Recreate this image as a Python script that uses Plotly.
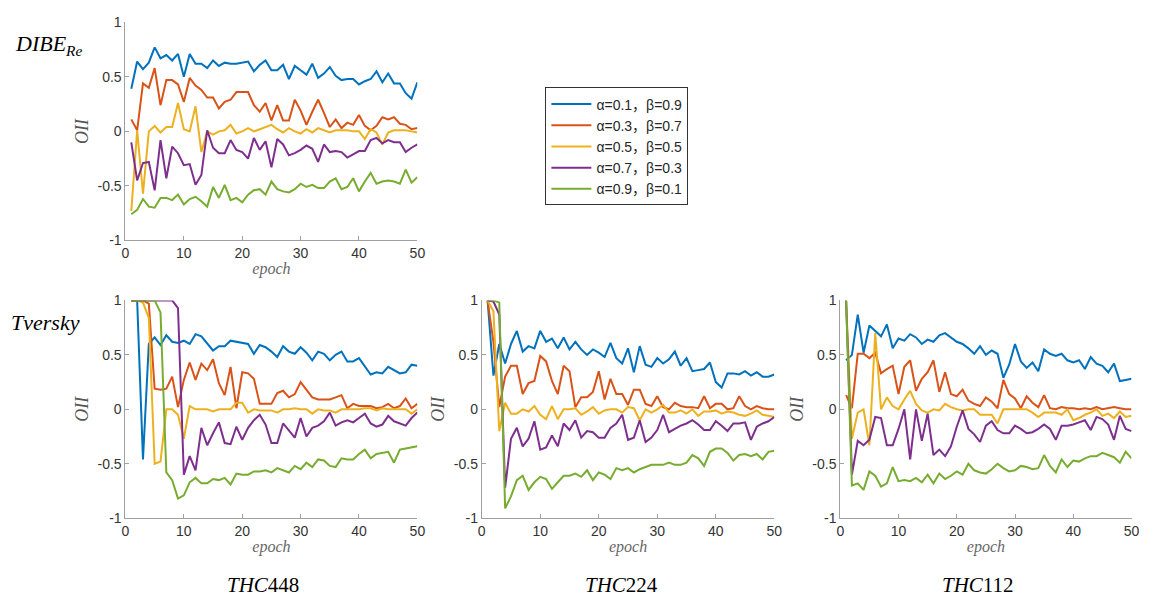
import plotly.graph_objects as go

epochs = list(range(1, 51))

series_names = ["α=0.1，β=0.9", "α=0.3，β=0.7", "α=0.5，β=0.5", "α=0.7，β=0.3", "α=0.9，β=0.1"]
series_colors = ["#0072BD", "#D95319", "#EDB120", "#7E2F8E", "#77AC30"]

# DIBE_Re (top left)
dibe_a01 = [0.39, 0.64, 0.57, 0.63, 0.77, 0.67, 0.70, 0.65, 0.71, 0.50, 0.71, 0.62, 0.62, 0.58, 0.65, 0.60, 0.63, 0.62, 0.62, 0.63,
            0.64, 0.55, 0.61, 0.65, 0.56, 0.56, 0.61, 0.48, 0.60, 0.56, 0.52, 0.62, 0.49, 0.53, 0.59, 0.51, 0.47, 0.48, 0.48, 0.43,
            0.46, 0.48, 0.55, 0.45, 0.53, 0.44, 0.44, 0.35, 0.30, 0.45]
dibe_a03 = [0.11, 0.01, 0.44, 0.40, 0.58, 0.24, 0.47, 0.47, 0.43, 0.27, 0.49, 0.42, 0.38, 0.31, 0.31, 0.21, 0.27, 0.29, 0.36, 0.36,
            0.36, 0.24, 0.18, 0.26, 0.10, 0.24, 0.10, 0.10, 0.29, 0.19, 0.06, 0.18, 0.29, 0.17, 0.04, 0.11, 0.03, 0.08, 0.06, 0.15,
            0.05, 0.01, 0.05, 0.13, 0.11, 0.13, 0.07, 0.06, 0.02, 0.03]
dibe_a05 = [-0.73, 0.01, -0.57, 0.00, 0.05, -0.01, 0.04, 0.04, 0.26, 0.02, 0.00, 0.23, -0.19, 0.00, -0.03, 0.00, 0.01, 0.06, -0.02, 0.00,
            0.03, 0.00, 0.02, 0.04, 0.06, 0.02, -0.01, 0.03, 0.00, -0.02, 0.02, -0.01, 0.03, 0.01, -0.01, 0.01, 0.01, 0.01, 0.00, 0.00,
            -0.07, 0.02, -0.01, -0.12, -0.01, 0.01, 0.01, 0.01, 0.00, -0.01]
dibe_a07 = [-0.10, -0.45, -0.29, -0.28, -0.54, -0.08, -0.43, -0.14, -0.20, -0.31, -0.30, -0.49, -0.40, 0.01, -0.15, -0.20, -0.20, -0.08, -0.17, -0.19,
            -0.25, -0.06, -0.17, -0.09, -0.33, -0.07, -0.12, -0.22, -0.20, -0.17, -0.13, -0.16, -0.28, -0.12, -0.19, -0.18, -0.19, -0.24, -0.21, -0.18,
            -0.18, -0.08, -0.06, -0.11, -0.08, -0.10, -0.10, -0.19, -0.15, -0.12]
dibe_a09 = [-0.76, -0.72, -0.62, -0.69, -0.70, -0.61, -0.61, -0.63, -0.58, -0.67, -0.62, -0.60, -0.64, -0.69, -0.51, -0.61, -0.49, -0.63, -0.61, -0.65,
            -0.58, -0.54, -0.53, -0.58, -0.46, -0.53, -0.55, -0.56, -0.53, -0.48, -0.51, -0.49, -0.52, -0.52, -0.46, -0.43, -0.53, -0.51, -0.43, -0.55,
            -0.46, -0.38, -0.48, -0.46, -0.45, -0.46, -0.48, -0.35, -0.47, -0.42]

# Tversky THC448
thc448_a01 = [1.00, 1.00, -0.46, 0.60, 0.66, 0.59, 0.68, 0.62, 0.61, 0.63, 0.60, 0.69, 0.67, 0.60, 0.54, 0.58, 0.58, 0.63, 0.62, 0.61,
              0.60, 0.51, 0.59, 0.57, 0.53, 0.48, 0.58, 0.53, 0.51, 0.57, 0.52, 0.45, 0.53, 0.51, 0.45, 0.50, 0.53, 0.44, 0.44, 0.47,
              0.40, 0.32, 0.34, 0.33, 0.39, 0.36, 0.33, 0.34, 0.41, 0.40]
thc448_a03 = [1.00, 1.00, 1.00, 0.97, 0.19, 0.18, 0.19, 0.30, 0.02, 0.27, 0.43, 0.27, 0.42, 0.36, 0.46, 0.24, 0.13, 0.39, 0.01, 0.34,
              0.33, 0.28, 0.05, 0.05, 0.05, 0.15, 0.17, 0.11, 0.14, 0.25, 0.18, 0.11, 0.09, 0.09, 0.09, 0.11, 0.13, 0.01, 0.05, 0.03,
              0.03, 0.03, 0.01, 0.02, 0.05, 0.01, 0.03, 0.10, 0.01, 0.05]
thc448_a05 = [1.00, 1.00, 0.98, 0.84, -0.50, -0.48, 0.00, 0.00, -0.05, -0.27, 0.03, 0.00, 0.00, 0.00, -0.02, 0.00, 0.00, 0.00, 0.06, 0.06,
              -0.03, 0.00, -0.01, -0.01, -0.01, -0.03, 0.00, 0.00, 0.01, 0.00, 0.00, -0.04, 0.00, -0.01, -0.01, -0.03, 0.00, 0.00, 0.00, 0.00,
              0.01, 0.01, -0.01, 0.01, 0.00, 0.00, 0.00, 0.00, -0.04, 0.00]
thc448_a07 = [1.00, 1.00, 1.00, 1.00, 1.00, 1.00, 1.00, 1.00, 0.93, -0.60, -0.43, -0.56, -0.17, -0.33, -0.22, -0.12, -0.31, -0.32, -0.16, -0.28,
              -0.17, -0.10, -0.05, -0.14, -0.31, -0.31, -0.13, -0.20, -0.26, -0.08, -0.25, -0.17, -0.15, -0.11, -0.03, -0.15, -0.12, -0.10, -0.12, -0.08,
              -0.04, -0.13, -0.16, -0.14, -0.06, -0.11, -0.13, -0.15, -0.08, -0.03]
thc448_a09 = [1.00, 1.00, 1.00, 1.00, 1.00, 0.89, -0.58, -0.65, -0.82, -0.79, -0.67, -0.63, -0.68, -0.68, -0.64, -0.65, -0.63, -0.69, -0.59, -0.60,
              -0.60, -0.57, -0.57, -0.56, -0.58, -0.54, -0.56, -0.58, -0.52, -0.55, -0.49, -0.53, -0.46, -0.47, -0.52, -0.53, -0.45, -0.46, -0.46, -0.41,
              -0.37, -0.45, -0.41, -0.40, -0.39, -0.49, -0.37, -0.36, -0.35, -0.34]

# Tversky THC224
thc224_a01 = [1.00, 0.31, 0.60, 0.42, 0.60, 0.72, 0.53, 0.58, 0.56, 0.72, 0.62, 0.65, 0.56, 0.66, 0.55, 0.62, 0.55, 0.50, 0.55, 0.52,
              0.48, 0.61, 0.47, 0.42, 0.56, 0.34, 0.58, 0.41, 0.39, 0.47, 0.42, 0.46, 0.53, 0.40, 0.47, 0.35, 0.36, 0.37, 0.43, 0.25,
              0.20, 0.33, 0.33, 0.32, 0.35, 0.31, 0.34, 0.30, 0.30, 0.32]
thc224_a03 = [1.00, 0.62, 0.02, 0.30, 0.40, 0.40, 0.14, 0.24, 0.26, 0.49, 0.44, 0.26, 0.14, 0.40, 0.35, 0.02, 0.11, 0.11, 0.16, 0.35,
              0.09, 0.28, 0.14, 0.14, 0.04, 0.18, 0.18, 0.05, 0.03, 0.12, 0.02, 0.00, 0.06, 0.03, 0.02, 0.02, 0.01, 0.12, 0.01, 0.05,
              0.05, 0.00, 0.01, 0.12, 0.03, 0.00, 0.03, 0.01, 0.00, 0.00]
thc224_a05 = [1.00, 0.90, -0.20, 0.06, -0.04, -0.04, 0.00, -0.02, 0.03, -0.05, -0.09, 0.03, -0.09, 0.00, 0.00, 0.01, -0.05, -0.02, 0.02, -0.04,
              -0.01, 0.00, 0.00, -0.03, 0.02, 0.01, -0.10, 0.00, -0.03, 0.00, 0.04, -0.03, -0.03, -0.01, -0.04, 0.00, -0.06, -0.02, -0.02, -0.01,
              -0.04, -0.02, -0.03, -0.05, -0.06, -0.04, -0.01, -0.05, -0.06, -0.07]
thc224_a07 = [1.00, 0.99, 0.87, -0.72, -0.27, -0.17, -0.34, -0.27, -0.11, -0.37, -0.35, -0.24, -0.34, -0.13, -0.19, -0.10, -0.26, -0.20, -0.21, -0.26,
              -0.26, -0.17, -0.13, -0.05, -0.28, -0.26, -0.10, -0.30, -0.26, -0.19, -0.05, -0.21, -0.18, -0.15, -0.13, -0.10, -0.14, -0.19, -0.19, -0.11,
              -0.15, -0.20, -0.13, -0.13, -0.12, -0.28, -0.16, -0.13, -0.11, -0.07]
thc224_a09 = [1.00, 1.00, 0.98, -0.91, -0.80, -0.65, -0.61, -0.74, -0.67, -0.62, -0.64, -0.73, -0.67, -0.61, -0.61, -0.59, -0.62, -0.56, -0.65, -0.58,
              -0.60, -0.64, -0.54, -0.56, -0.54, -0.58, -0.55, -0.53, -0.51, -0.51, -0.51, -0.49, -0.51, -0.51, -0.49, -0.42, -0.45, -0.52, -0.39, -0.36,
              -0.36, -0.40, -0.47, -0.42, -0.41, -0.43, -0.41, -0.46, -0.39, -0.38]

# Tversky THC112
thc112_a01 = [0.45, 0.50, 0.87, 0.52, 0.77, 0.72, 0.67, 0.78, 0.56, 0.65, 0.63, 0.69, 0.66, 0.60, 0.64, 0.62, 0.68, 0.70, 0.66, 0.62,
              0.60, 0.56, 0.51, 0.58, 0.50, 0.54, 0.51, 0.29, 0.41, 0.60, 0.44, 0.38, 0.43, 0.35, 0.55, 0.51, 0.49, 0.51, 0.45, 0.43,
              0.45, 0.37, 0.48, 0.42, 0.40, 0.34, 0.42, 0.26, 0.27, 0.28]
thc112_a03 = [0.13, 0.01, 0.51, 0.51, 0.47, 0.52, 0.33, 0.37, 0.40, 0.14, 0.39, 0.45, 0.17, 0.28, 0.34, 0.45, 0.16, 0.34, 0.14, 0.12,
              0.18, 0.08, 0.05, 0.03, 0.11, 0.07, 0.01, 0.27, 0.14, 0.10, 0.01, 0.12, 0.06, 0.02, 0.13, 0.01, 0.00, 0.02, 0.01, 0.01,
              0.00, 0.01, 0.00, 0.02, 0.00, 0.01, 0.02, 0.01, 0.00, 0.00]
thc112_a05 = [1.00, -0.27, -0.03, 0.00, -0.33, 0.70, 0.00, 0.11, 0.03, 0.00, 0.09, 0.17, 0.05, -0.01, -0.03, 0.00, -0.01, 0.05, 0.02, 0.00,
              -0.01, 0.00, 0.00, -0.05, -0.05, -0.05, -0.13, 0.00, 0.00, 0.00, 0.00, 0.00, -0.03, -0.07, -0.03, -0.03, -0.03, -0.05, 0.00, -0.10,
              -0.08, -0.05, -0.03, 0.00, -0.06, -0.04, -0.08, -0.02, -0.07, -0.06]
thc112_a07 = [1.00, -0.60, -0.29, -0.33, -0.28, -0.07, -0.08, -0.33, -0.33, -0.18, 0.00, -0.46, 0.00, -0.29, -0.04, -0.42, -0.37, -0.43, -0.34, -0.16,
              -0.01, -0.18, -0.23, -0.30, -0.15, -0.11, -0.19, -0.22, -0.22, -0.15, -0.18, -0.22, -0.21, -0.18, -0.14, -0.18, -0.28, -0.15, -0.15, -0.14,
              -0.12, -0.10, -0.19, -0.07, -0.09, -0.14, -0.28, -0.06, -0.18, -0.20]
thc112_a09 = [1.00, -0.70, -0.68, -0.74, -0.57, -0.61, -0.71, -0.68, -0.53, -0.66, -0.65, -0.66, -0.63, -0.67, -0.60, -0.68, -0.59, -0.64, -0.61, -0.57,
              -0.60, -0.50, -0.56, -0.58, -0.59, -0.55, -0.50, -0.54, -0.57, -0.56, -0.52, -0.53, -0.55, -0.54, -0.42, -0.52, -0.58, -0.46, -0.53, -0.47,
              -0.48, -0.45, -0.43, -0.43, -0.40, -0.42, -0.44, -0.49, -0.39, -0.45]

x_ticks = [0, 10, 20, 30, 40, 50]
y_ticks = [-1, -0.5, 0, 0.5, 1]
y_tick_labels = ["-1", "-0.5", "0", "0.5", "1"]

# panel -> (series list, x domain, y domain)
panels = [
    ([dibe_a01, dibe_a03, dibe_a05, dibe_a07, dibe_a09], [0.1059, 0.3604], [0.6080, 0.9759]),
    ([thc448_a01, thc448_a03, thc448_a05, thc448_a07, thc448_a09], [0.1059, 0.3604], [0.1396, 0.5069]),
    ([thc224_a01, thc224_a03, thc224_a05, thc224_a07, thc224_a09], [0.4165, 0.6716], [0.1396, 0.5069]),
    ([thc112_a01, thc112_a03, thc112_a05, thc112_a07, thc112_a09], [0.7291, 0.9830], [0.1396, 0.5069]),
]

AXIS_GRAY = "#a0a0a0"
TICK_FONT = dict(family="Liberation Sans, Arial, sans-serif", size=14, color="#333333")
EPOCH_FONT = dict(family="Liberation Serif, serif", size=16, color="#666666")
OII_FONT = dict(family="Liberation Serif, serif", size=18, color="#555555")

fig = go.Figure()
layout_axes = {}
for i, (series, xdom, ydom) in enumerate(panels):
    n = "" if i == 0 else str(i + 1)
    for k, ys in enumerate(series):
        fig.add_trace(go.Scatter(
            x=epochs, y=ys, mode="lines",
            name=series_names[k],
            line=dict(color=series_colors[k], width=2),
            showlegend=(i == 0),
            xaxis="x" + n, yaxis="y" + n,
        ))
    layout_axes["xaxis" + n] = dict(
        domain=xdom, anchor="y" + n, range=[0, 50], tickvals=x_ticks,
        showline=True, linecolor=AXIS_GRAY, linewidth=1, ticks="inside", ticklen=4,
        tickcolor=AXIS_GRAY, showgrid=False, zeroline=False, tickfont=TICK_FONT,
        title=dict(text="<i>epoch</i>", font=EPOCH_FONT, standoff=2),
    )
    layout_axes["yaxis" + n] = dict(
        domain=ydom, anchor="x" + n, range=[-1, 1], tickvals=y_ticks, ticktext=y_tick_labels,
        showline=True, linecolor=AXIS_GRAY, linewidth=1, ticks="inside", ticklen=4,
        tickcolor=AXIS_GRAY, showgrid=False, zeroline=False, tickfont=TICK_FONT,
        title=dict(text="<i>OII</i>", font=OII_FONT, standoff=4),
    )

fig.update_layout(**layout_axes)

ROW_FONT = dict(family="Liberation Serif, serif", size=22, color="black")
COL_FONT = dict(family="Liberation Serif, serif", size=21, color="black")
fig.update_layout(
    width=1159, height=609,
    margin=dict(l=0, r=0, t=0, b=0),
    paper_bgcolor="white", plot_bgcolor="white",
    legend=dict(
        x=0.472, y=0.866, xanchor="left", yanchor="top",
        bgcolor="white", bordercolor="#333333", borderwidth=1,
        font=dict(family="Liberation Sans, Arial, Noto Sans CJK SC, sans-serif", size=14, color="#262626"),
        tracegroupgap=0, itemwidth=40,
    ),
    annotations=[
        dict(text="<i>DIBE</i><sub><i>Re</i></sub>", x=9 / 1159, y=1 - 38 / 609, xref="paper", yref="paper",
             xanchor="left", yanchor="middle", showarrow=False, font=ROW_FONT),
        dict(text="<i>Tversky</i>", x=5 / 1159, y=1 - 323 / 609, xref="paper", yref="paper",
             xanchor="left", yanchor="middle", showarrow=False, font=ROW_FONT),
        dict(text="<i>THC</i>448", x=262 / 1159, y=1 - 593 / 609, xref="paper", yref="paper",
             xanchor="center", yanchor="middle", showarrow=False, font=COL_FONT),
        dict(text="<i>THC</i>224", x=624 / 1159, y=1 - 593 / 609, xref="paper", yref="paper",
             xanchor="center", yanchor="middle", showarrow=False, font=COL_FONT),
        dict(text="<i>THC</i>112", x=984 / 1159, y=1 - 593 / 609, xref="paper", yref="paper",
             xanchor="center", yanchor="middle", showarrow=False, font=COL_FONT),
    ],
)

fig.write_html("out.html", config={"displayModeBar": False},
               post_script="document.body.style.margin='0';")
